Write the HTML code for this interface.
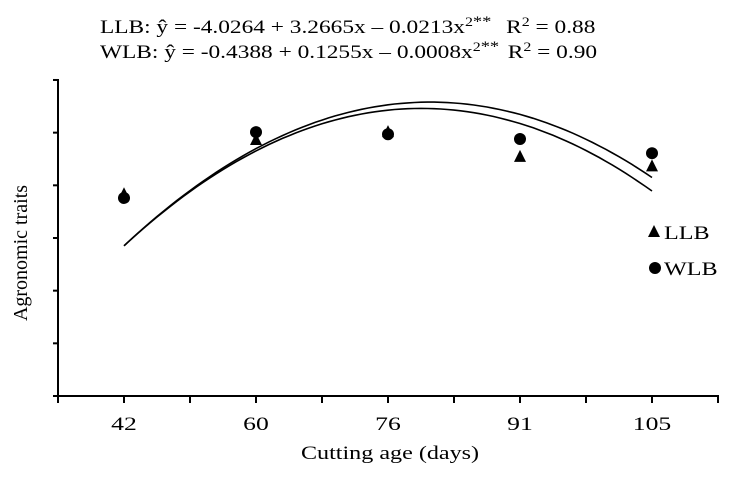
<!DOCTYPE html>
<html><head><meta charset="utf-8"><style>
body{margin:0;background:#fff}
svg{display:block;font-family:"Liberation Serif",serif}
</style></head><body>
<svg width="738" height="478" viewBox="0 0 738 478" xmlns="http://www.w3.org/2000/svg">
<g font-size="19" fill="#000">
<text transform="translate(100,33) scale(1.23,1)" x="0" y="0">LLB: ŷ = -4.0264 + 3.2665x – 0.0213x<tspan dy="-7" font-size="13">2</tspan><tspan dy="0" font-size="15">**</tspan><tspan dy="7" dx="12">R</tspan><tspan dy="-7" font-size="13">2</tspan><tspan dy="7"> = 0.88</tspan></text>
<text transform="translate(100,58) scale(1.23,1)" x="0" y="0">WLB: ŷ = -0.4388 + 0.1255x – 0.0008x<tspan dy="-7" font-size="13">2</tspan><tspan dy="0" font-size="15">**</tspan><tspan dy="7" dx="7">R</tspan><tspan dy="-7" font-size="13">2</tspan><tspan dy="7"> =  0.90</tspan></text>
</g>
<g id="axes"></g>
<g id="marks"></g>
<text font-size="20" text-anchor="middle" transform="translate(27,253) rotate(-90)">Agronomic traits</text>
<text font-size="19" text-anchor="middle" transform="translate(390,459) scale(1.27,1)">Cutting age (days)</text>
<g font-size="19">
<polygon points="654,225 648,237 660,237" fill="#000"/>
<text transform="translate(664,239) scale(1.27,1)">LLB</text>
<circle cx="655" cy="268" r="6" fill="#000"/>
<text transform="translate(664,275) scale(1.27,1)">WLB</text>
</g>
</svg>
<script>
const categories = ["42","60","76","91","105"];
const llbValues = [3.83, 4.86, 5.01, 4.54, 4.36];
const wlbValues = [3.76, 5.01, 4.97, 4.88, 4.61];
// fitted curves: v = a*(i-h)^2 + k, i = category index
const llbFit = [-0.514, 2.253, 5.46];
const wlbFit = [-0.507, 2.32, 5.58];
const yTickCount = 7;

const NS = "http://www.w3.org/2000/svg";
const x0 = 58, step = 132, yBase = 396, yUnit = 52.67;
const xScale = i => x0 + step/2 + i*step;
const yScale = v => yBase - v*yUnit;
function mk(tag, attrs, parent){const e=document.createElementNS(NS,tag);for(const k in attrs)e.setAttribute(k,attrs[k]);parent.appendChild(e);return e;}
const axes = document.getElementById('axes');
const marks = document.getElementById('marks');
let el = mk('line',{x1:x0,y1:yScale(yTickCount-1)-1,x2:x0,y2:yBase+1,stroke:'#000','stroke-width':2},axes);


el = mk('line',{x1:x0-1,y1:yBase,x2:x0+step*categories.length+1,y2:yBase,stroke:'#000','stroke-width':2},axes);


for(let t=0;t<yTickCount;t++){
  el = mk('line',{x1:x0-5,y1:yScale(t),x2:x0,y2:yScale(t),stroke:'#000','stroke-width':2},axes);
  
  
}
for(let k=0;k<=categories.length*2;k++){
  el = mk('line',{x1:x0+k*step/2,y1:yBase,x2:x0+k*step/2,y2:yBase+7,stroke:'#000','stroke-width':2},axes);
  
  
}
categories.forEach((c,i)=>{
  el = mk('text',{transform:`translate(${xScale(i)},430) scale(1.35,1)`,'font-size':19,'text-anchor':'middle'},axes);
  el.textContent=c;
  
  
});
function curve(f,name){
  let d='';
  for(let s=0;s<=80;s++){const i=s*(categories.length-1)/80;const v=f[0]*(i-f[1])**2+f[2];d+=(s?'L':'M')+xScale(i).toFixed(1)+' '+yScale(v).toFixed(1);}
  const p=mk('path',{d:d,fill:'none',stroke:'#000','stroke-width':1.6},marks);
  
  
}
curve(llbFit,'llb-fit-curve');
curve(wlbFit,'wlb-fit-curve');
llbValues.forEach((v,i)=>{
  const x=xScale(i),y=yScale(v);
  const p=mk('polygon',{points:`${x},${y-7} ${x-6},${y+5} ${x+6},${y+5}`,fill:'#000'},marks);
  
  
});
wlbValues.forEach((v,i)=>{
  const c=mk('circle',{cx:xScale(i),cy:yScale(v),r:6,fill:'#000'},marks);
  
  
});
</script>
</body></html>
